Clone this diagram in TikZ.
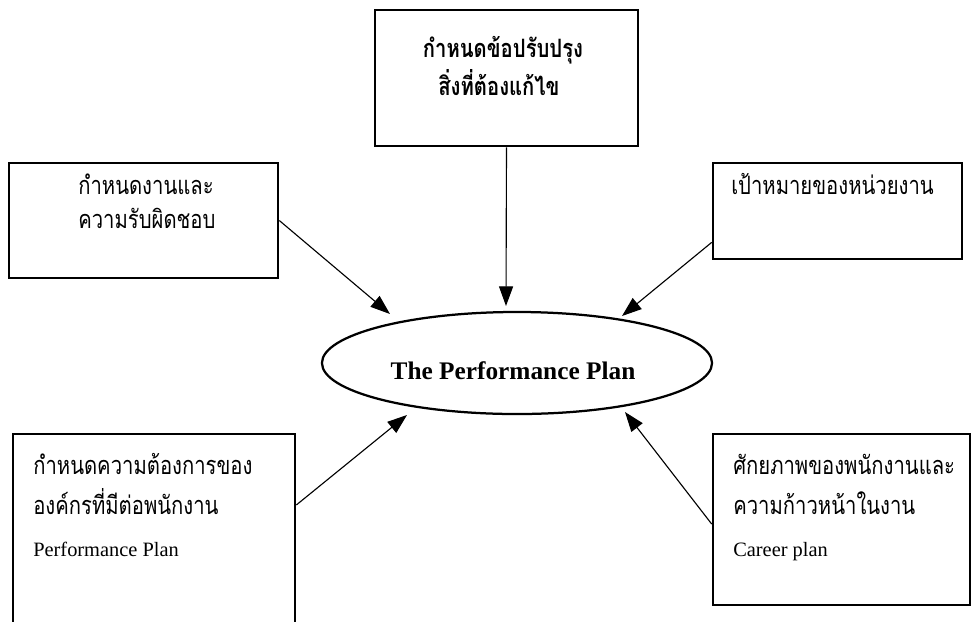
\documentclass[tikz,border=0pt]{standalone}
\usepackage{fontspec}
\usepackage{tikz}
\usetikzlibrary{arrows.meta,shapes.geometric}
\setmainfont{Liberation Serif}
\newfontfamily\thaifont[Script=Thai, FakeStretch=0.8]{Loma}

\begin{document}
\begin{tikzpicture}[x=0.025cm, y=-0.025cm,
	box/.style={rectangle, draw=black, line width=1.8pt, inner sep=0pt},
	thai/.style={inner sep=0pt, anchor=base west, font=\thaifont\fontsize{18}{20}\selectfont},
	eng/.style={inner sep=0pt, anchor=base west, font=\fontsize{14.5}{16}\selectfont},
	arr/.style={draw=black, line width=0.8pt, -{Triangle[length=14pt,width=10pt]}}]
			\clip (0,0) rectangle (975,621);
			\fill[white] (0,0) rectangle (975,621);

			\node[box, minimum width=6.575cm, minimum height=3.4cm] (top) at (506.5,78){};
			\node[box, minimum width=6.725cm, minimum height=2.875cm] (lbox) at (143.5,220.5){};
			\node[box, minimum width=6.225cm, minimum height=2.4cm] (rbox) at (837.5,211){};
			\node[box, minimum width=7.05cm, minimum height=6cm] (blbox) at (154,554){};
			\node[box, minimum width=6.425cm, minimum height=4.275cm] (brbox) at (841.5,519.5){};
			\node[ellipse, draw=black, line width=1.6pt, minimum width=9.75cm, minimum height=2.55cm] (plan) at (517,363){};
			\node[inner sep=0pt, font=\bfseries\fontsize{18}{20}\selectfont] (plantxt) at (513,371){The Performance Plan};

			% box texts
			\node[thai, anchor=base, font=\thaifont\bfseries\fontsize{18}{20}\selectfont] (t1) at (503,57){กำหนดข้อปรับปรุง};
			\node[thai, anchor=base, font=\thaifont\bfseries\fontsize{18}{20}\selectfont] (t2) at (499,95){สิ่งที่ต้องแก้ไข};
			\node[thai] (l1) at (78,194){กำหนดงานและ};
			\node[thai] (l2) at (78,228){ความรับผิดชอบ};
			\node[thai] (r1) at (731,194){เป้าหมายของหน่วยงาน};
			\node[thai] (bl1) at (33,474){กำหนดความต้องการของ};
			\node[thai] (bl2) at (33,514){องค์กรที่มีต่อพนักงาน};
			\node[eng] (bl3) at (33,556){Performance Plan};
			\node[thai] (br1) at (733,474){ศักยภาพของพนักงานและ};
			\node[thai] (br2) at (733,514){ความก้าวหน้าในงาน};
			\node[eng] (br3) at (733,556){Career plan};

			% arrow tips near the ellipse
			\coordinate (ttip) at (506,306);
			\coordinate (ltip) at (390,314);
			\coordinate (rtip) at (622,316);
			\coordinate (bltip) at (407,415);
			\coordinate (brtip) at (625,412);

			\draw[arr] (top.south) -- (ttip);
			\draw[arr] (lbox.east) -- (ltip);
			\draw[arr] (rbox.194) -- (rtip);
			\draw[arr] (blbox.19) -- (bltip);
			\draw[arr] (brbox.182) -- (brtip);
\end{tikzpicture}
\end{document}
